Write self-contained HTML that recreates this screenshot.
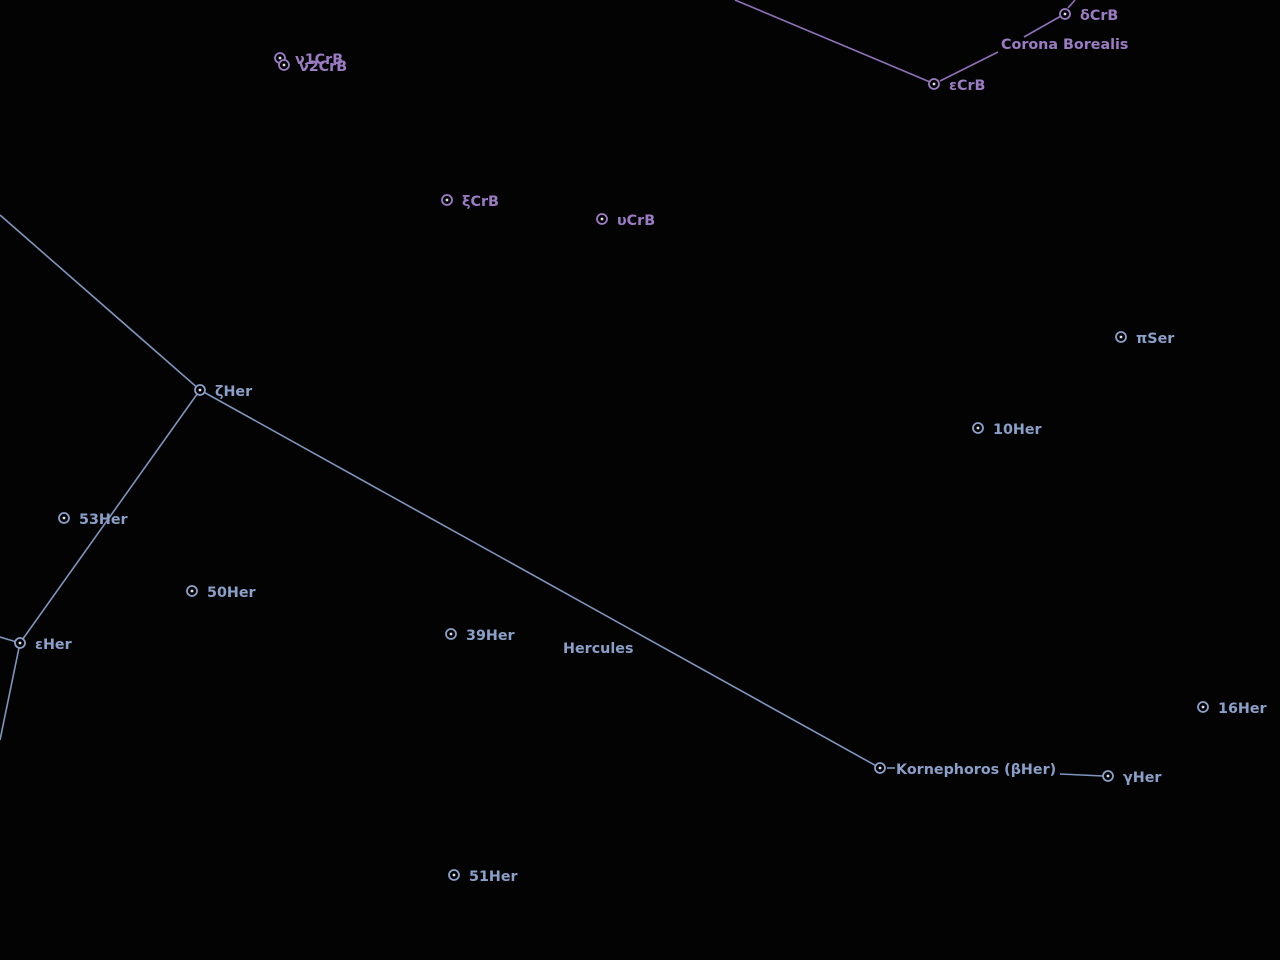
<!DOCTYPE html>
<html><head><meta charset="utf-8"><style>
html,body{margin:0;padding:0;background:#030303;width:1280px;height:960px;overflow:hidden}
svg{display:block}
text{font-family:"DejaVu Sans","Liberation Sans",sans-serif;font-weight:bold;font-size:14.3px}
</style></head><body>
<svg id="chart" width="1280" height="960" viewBox="0 0 1280 960">
<rect width="1280" height="960" fill="#030303"/>
<g id="lines"></g><g id="stars"></g><g id="labels"></g>
</svg>
<script>
const starNames=["ν1CrB","ν2CrB","δCrB","εCrB","ξCrB","υCrB","πSer","ζHer","10Her","53Her","50Her","εHer","39Her","16Her","Kornephoros (βHer)","γHer","51Her"];
const starX=[280,284,1065,934,447,602,1121,200,978,64,192,20,451,1203,880,1108,454];
const starY=[58,65,14,84,200,219,337,390,428,518,591,643,634,707,768,776,875];
const starGroup=["c","c","c","c","c","c","h","h","h","h","h","h","h","h","h","h","h"];
const herLines=[[0,215,200,390],[200,390,880,768],[200,390,20,643],[20,643,0,637],[20,643,0,740],[887,768,895,768],[1060,774,1103,776]];
const crbLines=[[735,0,930,82],[940,81,998,52],[1024,37,1061,16],[1068,8,1075,0]];
const constNames=["Hercules","Corona Borealis"];
const constX=[563,1001];const constY=[653,49];
const col={h:"#8aa0c8",c:"#9b7cc4"};
const ns="http://www.w3.org/2000/svg";
const L=document.getElementById("lines"),S=document.getElementById("stars"),T=document.getElementById("labels");
function mk(t,a){const e=document.createElementNS(ns,t);for(const k in a)e.setAttribute(k,a[k]);return e;}
herLines.forEach(l=>{const e=mk("line",{x1:l[0],y1:l[1],x2:l[2],y2:l[3],stroke:"#7f95bd","stroke-width":1.6});

L.appendChild(e);});
crbLines.forEach(l=>{const e=mk("line",{x1:l[0],y1:l[1],x2:l[2],y2:l[3],stroke:"#9070b8","stroke-width":1.6});

L.appendChild(e);});
starNames.forEach((n,i)=>{const c=col[starGroup[i]];
const g=mk("g",{});


g.appendChild(mk("circle",{cx:starX[i],cy:starY[i],r:5,fill:"#030303",stroke:c,"stroke-width":1.8}));
g.appendChild(mk("circle",{cx:starX[i],cy:starY[i],r:1.4,fill:"#dde"}));
S.appendChild(g);
const t=mk("text",{x:starX[i]+(n==="Kornephoros (βHer)"?16:15),y:starY[i]+6,fill:c});
t.textContent=n;


T.appendChild(t);});
constNames.forEach((n,i)=>{const t=mk("text",{x:constX[i],y:constY[i],fill:i?"#9b7cc4":"#8aa0c8"});
t.textContent=n;


T.appendChild(t);});
</script>
</body></html>
